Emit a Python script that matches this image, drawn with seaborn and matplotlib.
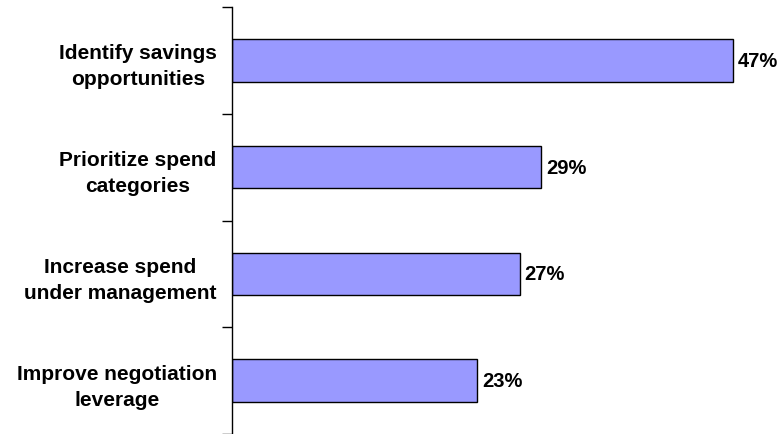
import matplotlib
matplotlib.use("Agg")
import matplotlib.pyplot as plt
import seaborn as sns
import pandas as pd
from matplotlib.ticker import FixedLocator

categories = ["Identify savings\nopportunities", "Prioritize spend\ncategories",
              "Increase spend\nunder management", "Improve negotiation\nleverage"]
values = [47, 29, 27, 23]
value_labels = ["47%", "29%", "27%", "23%"]

df = pd.DataFrame({"category": categories, "value": values})

sns.set_style("white")
plt.rcParams['font.family'] = ['Liberation Sans', 'DejaVu Sans']
plt.rcParams['text.color'] = 'black'
plt.rcParams['ytick.color'] = 'black'
plt.rcParams['ytick.labelcolor'] = 'black'

fig = plt.figure(figsize=(7.8, 4.35), dpi=100)
ax = fig.add_axes([232/780, 0.0, 533/780, (435-8)/435])

sns.barplot(data=df, x="value", y="category", orient="h", color="#9999FF",
            saturation=1, width=0.4, edgecolor="black", linewidth=1.0, ax=ax)

ax.set_xlim(0, 50)
ax.set_ylim(3.5, -0.5)
ax.set_xlabel("")
ax.set_ylabel("")
ax.set_xticks([])

for s in ["top", "right", "bottom"]:
    ax.spines[s].set_visible(False)
ax.spines["left"].set_color("black")
ax.spines["left"].set_linewidth(1.0)

ax.yaxis.set_minor_locator(FixedLocator([-0.5, 0.5, 1.5, 2.5, 3.5]))
ax.tick_params(axis="y", which="minor", length=7, width=1, color="black", left=True)
ax.tick_params(axis="y", which="major", length=0, pad=11, labelcolor="black")
for t in ax.get_yticklabels():
    t.set_multialignment("center")
    t.set_fontsize(15)
    t.set_fontweight("bold")
    t.set_linespacing(1.47)
    t.set_color("black")

for cont in ax.containers:
    ax.bar_label(cont, labels=value_labels, padding=3.5, fontsize=14.5,
                 fontweight="bold", color="black")

fig.savefig("out.png", dpi=100)
